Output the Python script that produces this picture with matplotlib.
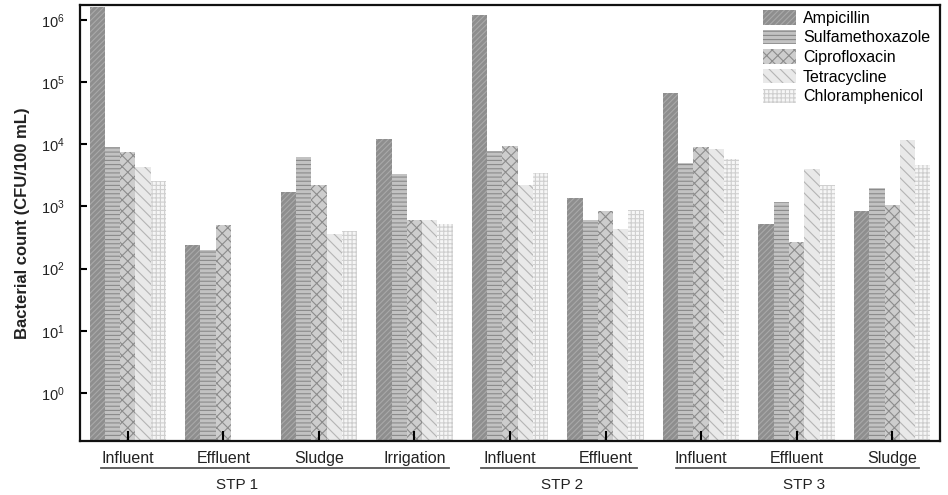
import numpy as np
import matplotlib
matplotlib.use("Agg")
import matplotlib.pyplot as plt
from matplotlib.transforms import blended_transform_factory

plt.rcParams['font.family'] = ['Liberation Sans', 'DejaVu Sans']
plt.rcParams['hatch.linewidth'] = 0.8
plt.rcParams['mathtext.fontset'] = 'custom'
plt.rcParams['mathtext.rm'] = 'Liberation Sans'
plt.rcParams['mathtext.it'] = 'Liberation Sans'

# Sampling points (x categories) and the plant each belongs to
categories = ['Influent', 'Effluent', 'Sludge', 'Irrigation',
              'Influent', 'Effluent',
              'Influent', 'Effluent', 'Sludge']
plants = ['STP 1', 'STP 2', 'STP 3']

# Resistant bacterial counts (CFU/100 mL); nan = not detected
ampicillin = [1.6e6, 240, 1720, 1.2e4, 1.2e6, 1350, 6.7e4, 530, 860]
sulfamethoxazole = [9100, 200, 6200, 3300, 7900, 610, 5000, 1200, 1950]
ciprofloxacin = [7400, 500, 2250, 600, 9400, 860, 9200, 265, 1040]
tetracycline = [4300, np.nan, 355, 615, 2250, 440, 8300, 3970, 11700]
chloramphenicol = [2600, np.nan, 410, 530, 3500, 885, 5900, 2200, 4600]

antibiotics = ['Ampicillin', 'Sulfamethoxazole', 'Ciprofloxacin',
               'Tetracycline', 'Chloramphenicol']
series = [ampicillin, sulfamethoxazole, ciprofloxacin, tetracycline, chloramphenicol]

# fill colour, hatch colour, hatch pattern per antibiotic
styles = [
    ('#8e8e8e', '#a9a9a9', '//////'),
    ('#c2c2c2', '#8a8a8a', '----'),
    ('#cdcdcd', '#8c8c8c', 'xxx'),
    ('#e9e9e9', '#b4b4b4', '\\\\\\'),
    ('#f6f6f6', '#cfcfcf', '++++'),
]

fig = plt.figure(figsize=(9.48, 4.95), dpi=100)
ax = fig.add_axes([80 / 948, 1 - 441 / 495, 860 / 948, 436 / 495])

x = np.arange(len(categories))
width = 0.16
for i, (name, vals, (fc, hc, hatch)) in enumerate(zip(antibiotics, series, styles)):
    ax.bar(x + (i - 2) * width, vals, width, facecolor=fc, edgecolor=hc,
           hatch=hatch, linewidth=0, label=name)

ax.set_yscale('log')
ax.set_ylim(0.169, 1.74e6)
ax.set_xlim(-0.5, 8.5)

ax.set_yticks([10.0 ** k for k in range(0, 7)])
ax.set_yticklabels([r'$10^{%d}$' % k for k in range(0, 7)])
ax.yaxis.set_minor_locator(matplotlib.ticker.NullLocator())
ax.tick_params(axis='y', direction='in', length=5, width=1.5, pad=11,
               labelsize=10.5, labelcolor='#222222')

ax.set_xticks(x)
ax.set_xticklabels(categories)
ax.tick_params(axis='x', direction='in', length=7, width=1.5, pad=7,
               labelsize=11.5, labelcolor='#222222')

for side in ['left', 'bottom', 'top', 'right']:
    ax.spines[side].set_linewidth(1.6)
    ax.spines[side].set_color('#111111')

ax.set_ylabel('Bacterial count (CFU/100 mL)', fontsize=12, fontweight='bold',
              color='#222222')
ax.yaxis.set_label_coords(-0.058, 0.5)

# Plant grouping lines and labels under the category labels
trans = blended_transform_factory(ax.transData, fig.transFigure)
line_spans = [(-0.282, 3.361), (3.692, 5.324), (5.735, 8.277)]
label_x = [1.14, 4.55, 7.08]
line_y = 1 - 468 / 495
text_y = 1 - 485 / 495
for (x0, x1), lx, name in zip(line_spans, label_x, plants):
    ax.plot([x0, x1], [line_y, line_y], transform=trans, color='#555555',
            linewidth=1.3, clip_on=False)
    fig.text(lx, text_y, name, transform=trans, ha='center', va='center',
             fontsize=11, color='#222222')

ax.legend(loc='upper left', bbox_to_anchor=(0.794, 0.988), frameon=False,
          fontsize=11.5, handlelength=2.1, handleheight=1.0, labelspacing=0.25,
          handletextpad=0.4, borderpad=0, borderaxespad=0)

fig.savefig('out.png', dpi=100)
